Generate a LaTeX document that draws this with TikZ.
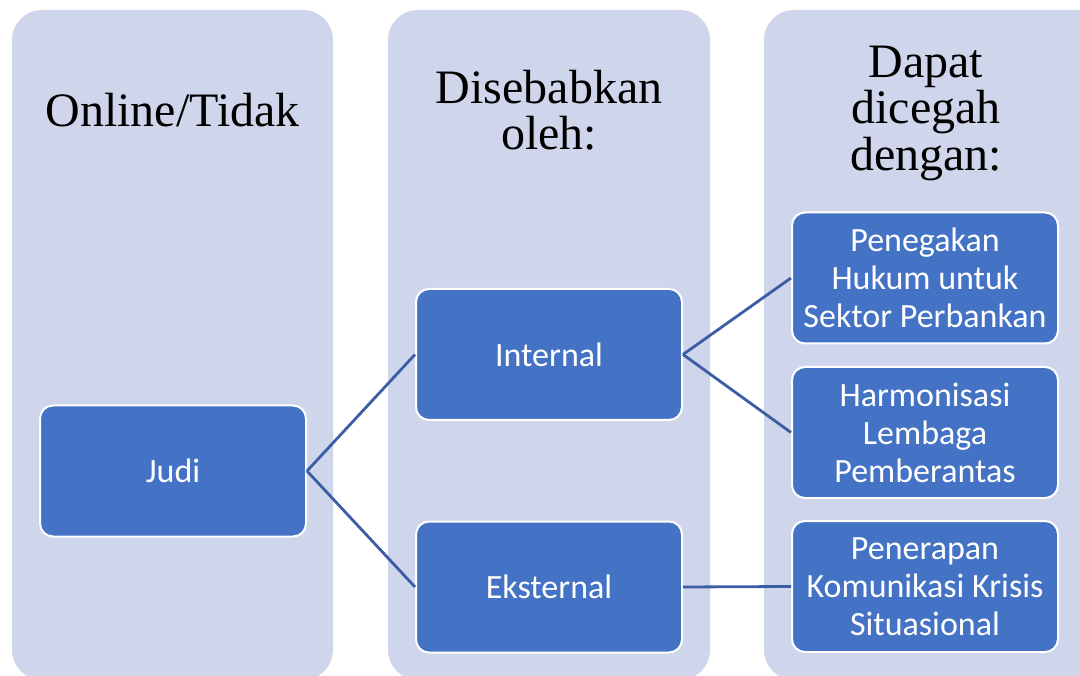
\documentclass[tikz,border=0pt]{standalone}
\usepackage{fontspec}
\setmainfont{Liberation Serif}
\setsansfont{Carlito}
\definecolor{colbg}{HTML}{CFD5EA}
\definecolor{boxblue}{HTML}{4472C4}
\definecolor{linkblue}{HTML}{3A5DA5}
\tikzset{
  kolom/.style={fill=colbg, rounded corners=30pt},
  judul/.style={align=center, text=black, font=\fontsize{48}{46.5}\selectfont},
  kotak/.style={draw=white, line width=2pt, fill=boxblue, rounded corners=13pt,
    minimum width=266pt, minimum height=131pt, inner sep=4pt, align=center,
    text=white, font=\sffamily\fontsize{34}{38}\selectfont},
  garis/.style={draw=linkblue, line width=2.8pt}
}
\begin{document}
\begin{tikzpicture}[x=1pt,y=-1pt]
\useasboundingbox (0,0) rectangle (1080,676);
\clip (0,0) rectangle (1080,676);

\fill[kolom] (12,10) rectangle (333,680);
\fill[kolom] (388,10) rectangle (710,680);
\fill[kolom] (764,10) rectangle (1110,680);

\node[judul] (t1) at (172.5,110) {Online/Tidak};
\node[judul] (t2) at (549,110) {Disebabkan\\oleh:};
\node[judul] (t3) at (926,113) {Dapat\\dicegah\\dengan:};

\node[kotak] (judi) at (173,471) {Judi};
\node[kotak] (internal) at (549,354.5) {Internal};
\node[kotak] (eksternal) at (549,587) {Eksternal};
\node[kotak] (hukum) at (925,278) {Penegakan\\Hukum untuk\\Sektor Perbankan};
\node[kotak] (lembaga) at (925,432.5) {Harmonisasi\\Lembaga\\Pemberantas};
\node[kotak] (krisis) at (925,586.5) {Penerapan\\Komunikasi Krisis\\Situasional};

\path[garis] (judi.east) -- (internal.west);
\path[garis] (judi.east) -- (eksternal.west);
\path[garis] (internal.east) -- (hukum.west);
\path[garis] (internal.east) -- (lembaga.west);
\path[garis] (eksternal.east) -- (krisis.west);
\end{tikzpicture}
\end{document}
